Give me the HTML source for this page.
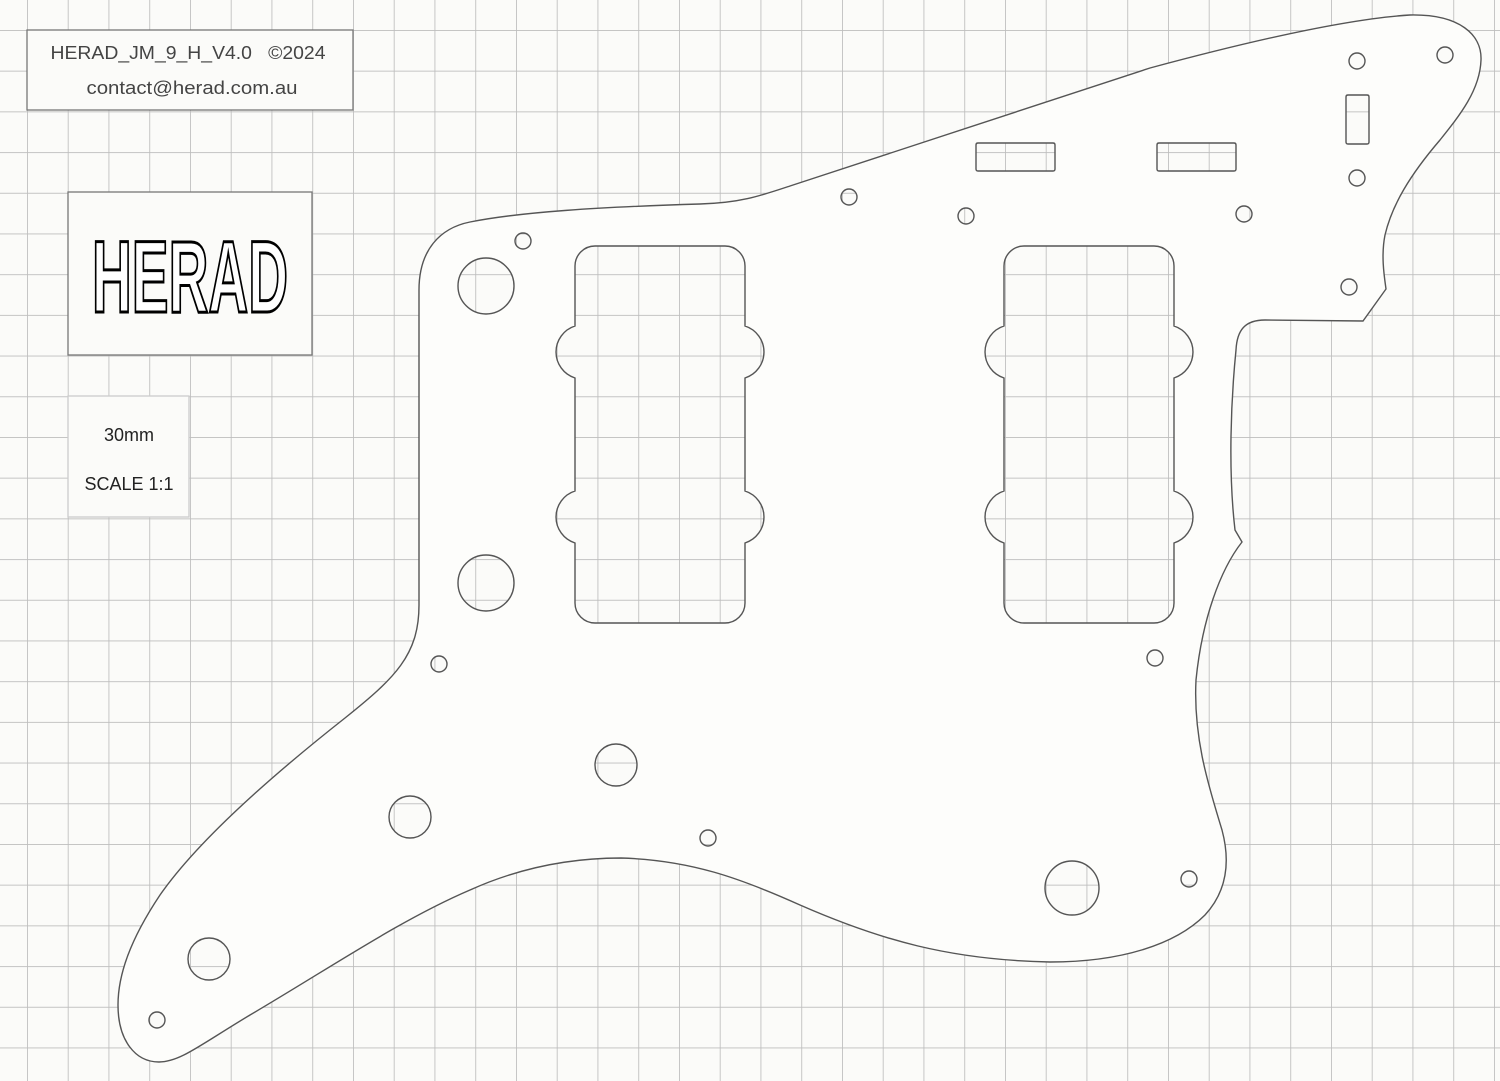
<!DOCTYPE html>
<html><head><meta charset="utf-8"><style>
html,body{margin:0;padding:0;background:#fbfbf9;}
svg{display:block}
</style></head><body>
<svg width="1500" height="1081" viewBox="0 0 1500 1081" xmlns="http://www.w3.org/2000/svg">
<defs>
<pattern id="g" x="27" y="30" width="40.75" height="40.7" patternUnits="userSpaceOnUse">
<path d="M0 0V40.7M0 0H40.75" stroke="#bdbdbd" stroke-width="1.7" fill="none"/>
</pattern>
</defs>
<rect width="1500" height="1081" fill="#fbfbf9"/>
<rect width="1500" height="1081" fill="url(#g)"/>

<path fill="#fdfdfb" stroke="#555" stroke-width="1.4" fill-rule="evenodd" d="
M419 290 C419 250 440 228 470 222 C520 212 600 207 700 204 C740 203 760 196 790 186
L1150 68 C1280 33 1360 18 1410 15 C1460 14 1482 35 1481 60 C1480 90 1460 115 1440 140
C1410 175 1392 205 1385 235 C1381 255 1384 275 1386 289 L1363 321 L1265 320
C1245 320 1237 330 1236 350 C1231 400 1228 470 1235 530 L1242 542
C1220 570 1202 620 1196 680 C1193 740 1210 790 1222 830 C1230 860 1228 890 1205 915
C1175 945 1120 962 1050 962 C950 960 880 940 800 905 C740 878 690 860 621 858
C560 858 510 872 470 890 C400 920 330 968 250 1015 C200 1045 180 1062 159 1062
C135 1062 118 1040 118 1005 C118 975 130 940 160 895 C195 845 260 785 345 718
C395 678 419 655 419 605 Z
M595 246 H725 A20 20 0 0 1 745 266 V326 A27.3 27.3 0 0 1 745 378 V491 A27.3 27.3 0 0 1 745 543 V603 A20 20 0 0 1 725 623 H595 A20 20 0 0 1 575 603 V543 A27.3 27.3 0 0 1 575 491 V378 A27.3 27.3 0 0 1 575 326 V266 A20 20 0 0 1 595 246 Z
M1024 246 H1154 A20 20 0 0 1 1174 266 V326 A27.3 27.3 0 0 1 1174 378 V491 A27.3 27.3 0 0 1 1174 543 V603 A20 20 0 0 1 1154 623 H1024 A20 20 0 0 1 1004 603 V543 A27.3 27.3 0 0 1 1004 491 V378 A27.3 27.3 0 0 1 1004 326 V266 A20 20 0 0 1 1024 246 Z
M978 143 H1053 Q1055 143 1055 145 V169 Q1055 171 1053 171 H978 Q976 171 976 169 V145 Q976 143 978 143 Z
M1159 143 H1234 Q1236 143 1236 145 V169 Q1236 171 1234 171 H1159 Q1157 171 1157 169 V145 Q1157 143 1159 143 Z
M1348 95 H1367 Q1369 95 1369 97 V142 Q1369 144 1367 144 H1348 Q1346 144 1346 142 V97 Q1346 95 1348 95 Z
M1349 61 a8 8 0 1 0 16 0 a8 8 0 1 0 -16 0 Z
M1437 55 a8 8 0 1 0 16 0 a8 8 0 1 0 -16 0 Z
M1349 178 a8 8 0 1 0 16 0 a8 8 0 1 0 -16 0 Z
M1341 287 a8 8 0 1 0 16 0 a8 8 0 1 0 -16 0 Z
M841 197 a8 8 0 1 0 16 0 a8 8 0 1 0 -16 0 Z
M958 216 a8 8 0 1 0 16 0 a8 8 0 1 0 -16 0 Z
M1236 214 a8 8 0 1 0 16 0 a8 8 0 1 0 -16 0 Z
M515 241 a8 8 0 1 0 16 0 a8 8 0 1 0 -16 0 Z
M431 664 a8 8 0 1 0 16 0 a8 8 0 1 0 -16 0 Z
M1147 658 a8 8 0 1 0 16 0 a8 8 0 1 0 -16 0 Z
M700 838 a8 8 0 1 0 16 0 a8 8 0 1 0 -16 0 Z
M1181 879 a8 8 0 1 0 16 0 a8 8 0 1 0 -16 0 Z
M149 1020 a8 8 0 1 0 16 0 a8 8 0 1 0 -16 0 Z
M458 286 a28 28 0 1 0 56 0 a28 28 0 1 0 -56 0 Z
M458 583 a28 28 0 1 0 56 0 a28 28 0 1 0 -56 0 Z
M1045 888 a27 27 0 1 0 54 0 a27 27 0 1 0 -54 0 Z
M595 765 a21 21 0 1 0 42 0 a21 21 0 1 0 -42 0 Z
M389 817 a21 21 0 1 0 42 0 a21 21 0 1 0 -42 0 Z
M188 959 a21 21 0 1 0 42 0 a21 21 0 1 0 -42 0 Z
"/>

<rect x="27" y="30" width="326" height="80" fill="#fbfbf9" stroke="#777" stroke-width="1.3"/>
<text x="188" y="59" font-family="Liberation Sans, sans-serif" font-size="18" fill="#444" text-anchor="middle" textLength="275" lengthAdjust="spacingAndGlyphs">HERAD_JM_9_H_V4.0 &#160; ©2024</text>
<text x="192" y="94" font-family="Liberation Sans, sans-serif" font-size="18" fill="#444" text-anchor="middle" textLength="211" lengthAdjust="spacingAndGlyphs">contact@herad.com.au</text>

<rect x="68" y="192" width="244" height="163" fill="#fbfbf9" stroke="#777" stroke-width="1.3"/>
<text x="190" y="312" font-family="Liberation Sans, sans-serif" font-weight="bold" font-size="102" fill="#fff" stroke="#000" stroke-width="3" text-anchor="middle" textLength="196" lengthAdjust="spacingAndGlyphs">HERAD</text>

<rect x="68" y="396" width="121" height="121" fill="#fbfbf9" stroke="#ccc" stroke-width="1.3"/>
<text x="129" y="441" font-family="Liberation Sans, sans-serif" font-size="18" fill="#222" text-anchor="middle">30mm</text>
<text x="129" y="490" font-family="Liberation Sans, sans-serif" font-size="18" fill="#222" text-anchor="middle">SCALE 1:1</text>
</svg>
</body></html>
